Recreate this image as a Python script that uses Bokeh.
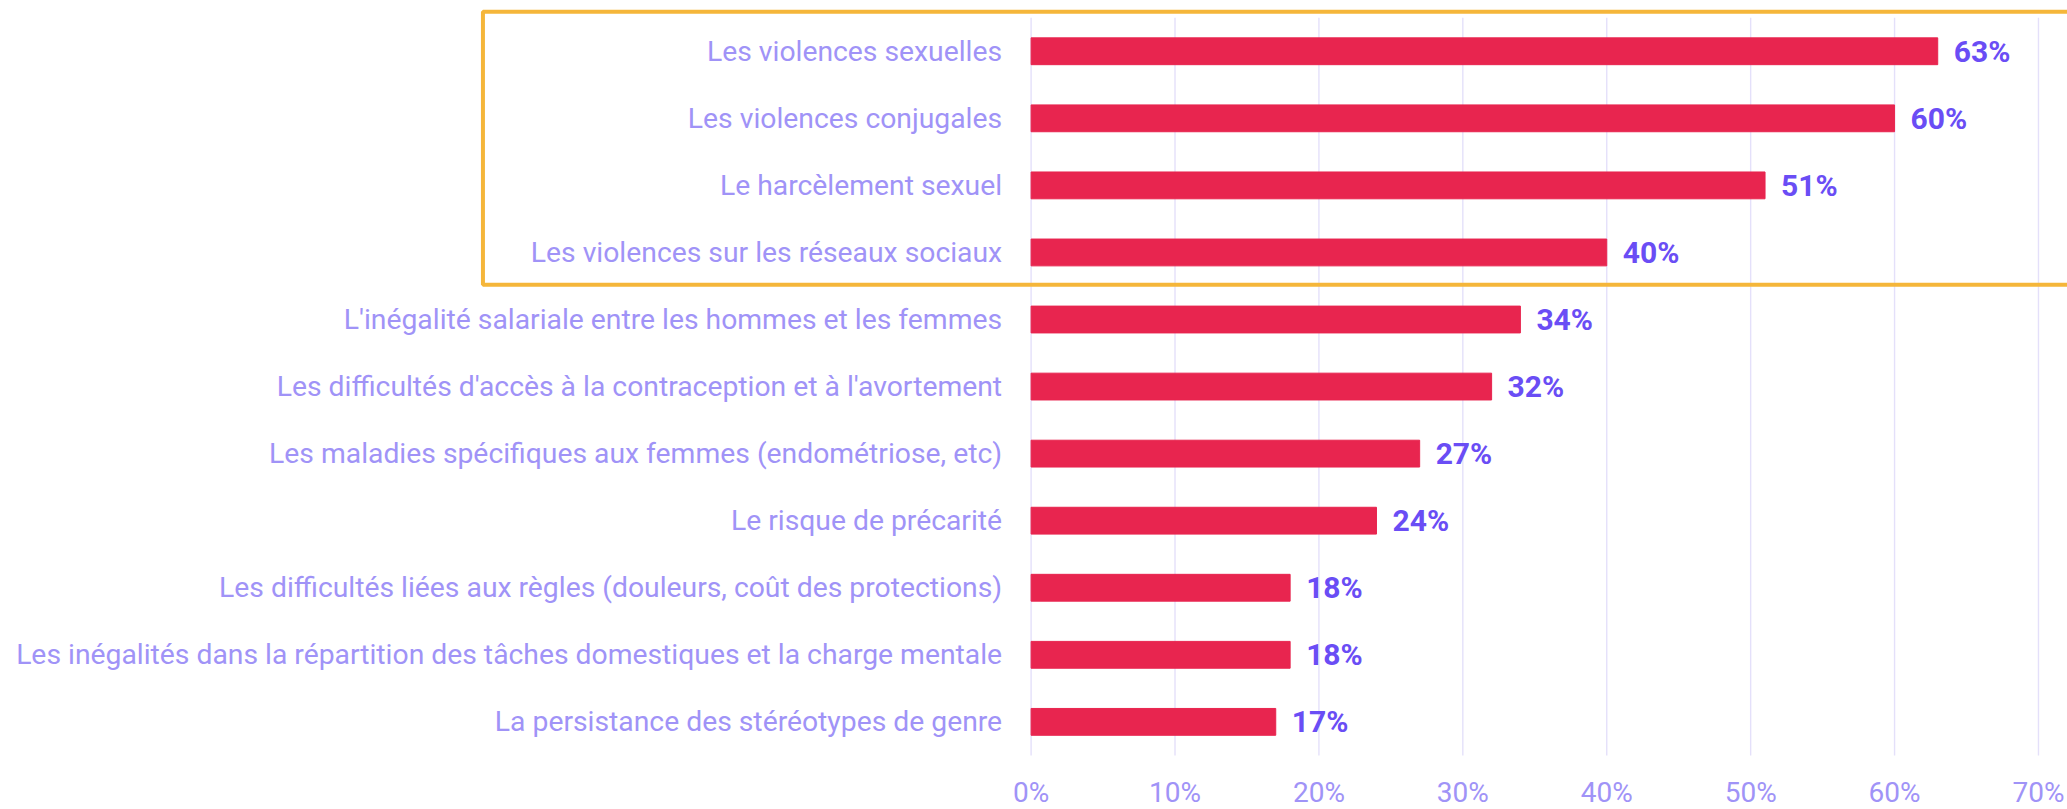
from bokeh.plotting import figure
from bokeh.models import ColumnDataSource, Range1d, BoxAnnotation
from bokeh.core.properties import value
from bokeh.embed import file_html
from bokeh.resources import INLINE

categories = [
    "Les violences sexuelles",
    "Les violences conjugales",
    "Le harcèlement sexuel",
    "Les violences sur les réseaux sociaux",
    "L'inégalité salariale entre les hommes et les femmes",
    "Les difficultés d'accès à la contraception et à l'avortement",
    "Les maladies spécifiques aux femmes (endométriose, etc)",
    "Le risque de précarité",
    "Les difficultés liées aux règles (douleurs, coût des protections)",
    "Les inégalités dans la répartition des tâches domestiques et la charge mentale",
    "La persistance des stéréotypes de genre",
]
values = [63, 60, 51, 40, 34, 32, 27, 24, 18, 18, 17]
x_ticks = [0, 10, 20, 30, 40, 50, 60, 70]
tick_labels = [f"{t}%" for t in x_ticks]
n_highlighted = 4

BAR = "#E8254F"
VAL = "#6A4DF5"
LAB = "#A093F7"
GRID = "#E4E0FA"
ORANGE = "#F5B63A"
FONT = "Roboto"

W, H = 2067, 809
n = len(categories)
ypos = [n - i - 0.5 for i in range(n)]

bars = ColumnDataSource(dict(
    y=ypos, val=values, cat=categories,
    label=[f"{v}%" for v in values],
    zero=[0] * n,
))
ticks = ColumnDataSource(dict(
    x=x_ticks, label=tick_labels,
    y0=[0] * len(x_ticks), y1=[n] * len(x_ticks),
    ty=[-0.546] * len(x_ticks),
))

# frame covers whole canvas; x: 0% at px 1030.6, 14.391 px per %
X0, SX = 1030.6, 14.391
# y: category band 67.06 px, data 0 at px 754.9
Y0, SY = 754.9, 67.06

p = figure(
    width=W, height=H,
    x_range=Range1d(-X0 / SX, (W - X0) / SX),
    y_range=Range1d(-(H - Y0) / SY, Y0 / SY),
    output_backend="svg", toolbar_location=None,
    min_border=0, x_axis_type=None, y_axis_type=None,
)
p.outline_line_color = None
p.xgrid.visible = False
p.ygrid.visible = False
p.background_fill_color = "white"
p.border_fill_color = "white"

# vertical gridlines
p.segment(x0="x", y0="y0", x1="x", y1="y1", source=ticks,
          line_color=GRID, line_width=1.4)

# bars
p.hbar(y="y", right="val", left=0, height=0.40, source=bars,
       fill_color=BAR, line_color=BAR)

# value labels
p.text(x="val", y="y", text="label", source=bars,
       x_offset=16, text_baseline="middle", text_align="left",
       text_font=value(FONT), text_font_style="bold",
       text_font_size="30px", text_color=VAL)

# category labels
p.text(x="zero", y="y", text="cat", source=bars,
       x_offset=-29, text_baseline="middle", text_align="right",
       text_font=value(FONT), text_font_size="28.3px", text_color=LAB)

# x tick labels
p.text(x="x", y="ty", text="label", source=ticks,
       text_baseline="middle", text_align="center",
       text_font=value(FONT), text_font_size="28px", text_color=LAB)

# highlight box around the top categories
box = BoxAnnotation(left=-38.09, right=80, top=n + 0.089,
                    bottom=n - n_highlighted + 0.02,
                    fill_alpha=0, line_color=ORANGE, line_alpha=1,
                    line_width=4)
p.add_layout(box)

open("out.html", "w").write(file_html(p, INLINE))
